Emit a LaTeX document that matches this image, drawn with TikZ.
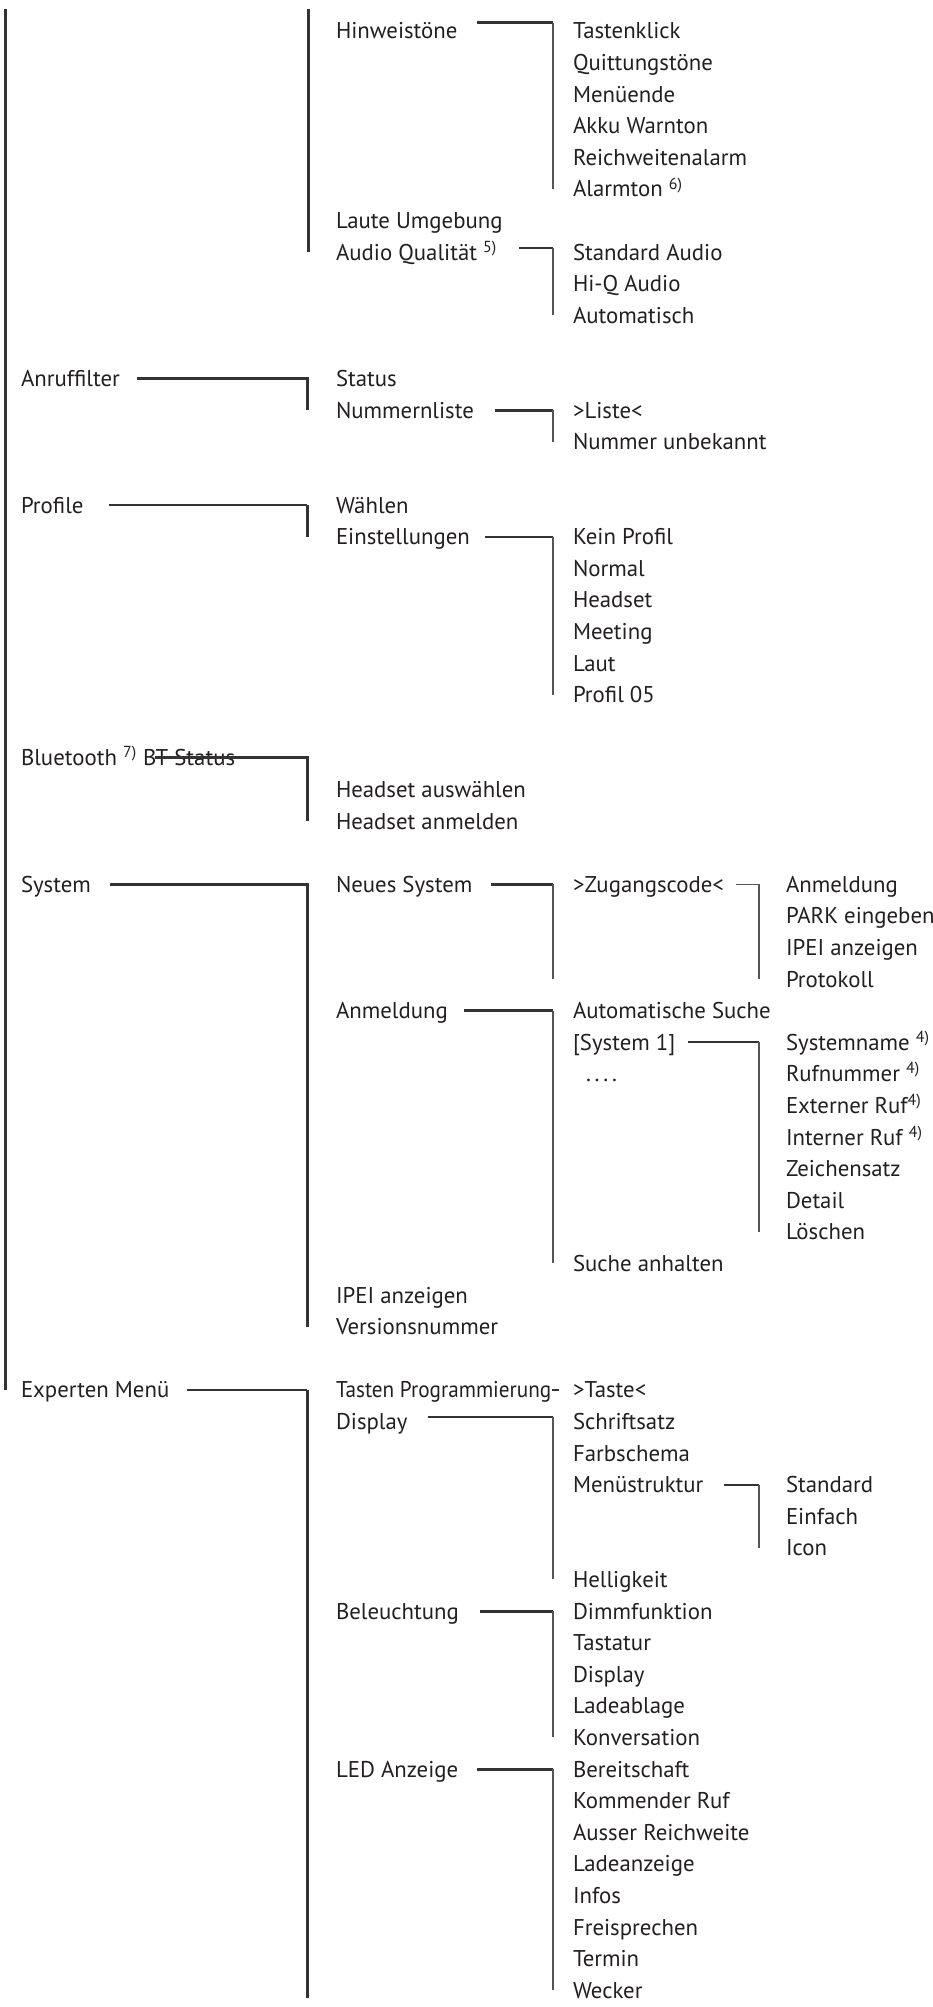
\documentclass[tikz,border=0pt]{standalone}
\usepackage{fontspec}
\setmainfont{PT Sans}
\newfontfamily\narrowfont{PT Sans}[FakeStretch=0.93]
\definecolor{ink}{HTML}{231F20}
\definecolor{wire}{HTML}{333333}
\definecolor{thinwire}{HTML}{555555}

\begin{document}
\begin{tikzpicture}[x=0.5pt,y=-15.8pt,
    menu node/.style={anchor=base west,inner sep=0pt,outer sep=0pt,text height=10pt,text depth=2pt,text=ink,font=\fontsize{11.4}{13}\selectfont},
    heavy line/.style={draw=wire,line width=1.5pt},
    medium line/.style={draw=wire,line width=1pt},
    light line/.style={draw=thinwire,line width=0.65pt}]
    \useasboundingbox (0,-1.234) rectangle (932,62.278);

    % Hinweistoene / Audio
    \node[menu node] (hinweis) at (336,0) {Hinweistöne};
    \node[menu node] (tastklick) at (573,0) {Tastenklick};
    \node[menu node] (quitt) at (573,1) {Quittungstöne};
    \node[menu node] (menuende) at (573,2) {Menüende};
    \node[menu node] (akku) at (573,3) {Akku Warnton};
    \node[menu node] (reichw) at (573,4) {Reichweitenalarm};
    \node[menu node] (alarm) at (573,5) {Alarmton \textsuperscript{6)}};
    \node[menu node] (lautumg) at (336,6) {Laute Umgebung};
    \node[menu node] (audio) at (336,7) {Audio Qualität \textsuperscript{5)}};
    \node[menu node] (stdaudio) at (573,7) {Standard Audio};
    \node[menu node] (hiq) at (573,8) {Hi-Q Audio};
    \node[menu node] (automat) at (573,9) {Automatisch};

    % Anruffilter
    \node[menu node] (anruf) at (21,11) {Anruffilter};
    \node[menu node] (status) at (336,11) {Status};
    \node[menu node] (numliste) at (336,12) {Nummernliste};
    \node[menu node] (liste) at (573,12) {>Liste<};
    \node[menu node] (unbek) at (573,13) {Nummer unbekannt};

    % Profile
    \node[menu node] (profile) at (21,15) {Profile};
    \node[menu node] (waehlen) at (336,15) {Wählen};
    \node[menu node] (einst) at (336,16) {Einstellungen};
    \node[menu node] (kein) at (573,16) {Kein Profil};
    \node[menu node] (normal) at (573,17) {Normal};
    \node[menu node] (headset) at (573,18) {Headset};
    \node[menu node] (meeting) at (573,19) {Meeting};
    \node[menu node] (lautp) at (573,20) {Laut};
    \node[menu node] (prof05) at (573,21) {Profil 05};

    % Bluetooth
    \node[menu node] (bt) at (21,23) {Bluetooth \textsuperscript{7)}};
    \node[menu node] (btstat) at (143,23) {BT Status};
    \node[menu node] (hsausw) at (336,24) {Headset auswählen};
    \node[menu node] (hsanm) at (336,25) {Headset anmelden};

    % System
    \node[menu node] (system) at (21,27) {System};
    \node[menu node] (neues) at (336,27) {Neues System};
    \node[menu node] (zugang) at (573,27) {>Zugangscode<};
    \node[menu node] (anmfour) at (786,27) {Anmeldung};
    \node[menu node] (park) at (786,28) {PARK eingeben};
    \node[menu node] (ipeifour) at (786,29) {IPEI anzeigen};
    \node[menu node] (protokoll) at (786,30) {Protokoll};
    \node[menu node] (anmtwo) at (336,31) {Anmeldung};
    \node[menu node] (autosuche) at (573,31) {Automatische Suche};
    \node[menu node] (sysone) at (573,32) {[System 1]};
    \node[menu node] (dots) at (586,33) {.\,.\,.\,.};
    \node[menu node] (sysname) at (786,32) {Systemname \textsuperscript{4)}};
    \node[menu node] (rufnr) at (786,33) {Rufnummer \textsuperscript{4)}};
    \node[menu node] (extern) at (786,34) {Externer Ruf\textsuperscript{4)}};
    \node[menu node] (intern) at (786,35) {Interner Ruf \textsuperscript{4)}};
    \node[menu node] (zeichen) at (786,36) {Zeichensatz};
    \node[menu node] (detail) at (786,37) {Detail};
    \node[menu node] (loeschen) at (786,38) {Löschen};
    \node[menu node] (suchean) at (573,39) {Suche anhalten};
    \node[menu node] (ipeitwo) at (336,40) {IPEI anzeigen};
    \node[menu node] (version) at (336,41) {Versionsnummer};

    % Experten Menue
    \node[menu node] (experten) at (21,43) {Experten Menü};
    \node[menu node,font=\fontsize{11.4}{13}\narrowfont] (tastprog) at (336,43) {Tasten Programmierung};
    \node[menu node] (taste) at (573,43) {>Taste<};
    \node[menu node] (display) at (336,44) {Display};
    \node[menu node] (schrift) at (573,44) {Schriftsatz};
    \node[menu node] (farb) at (573,45) {Farbschema};
    \node[menu node] (menustr) at (573,46) {Menüstruktur};
    \node[menu node] (standard) at (786,46) {Standard};
    \node[menu node] (einfach) at (786,47) {Einfach};
    \node[menu node] (icon) at (786,48) {Icon};
    \node[menu node] (hell) at (573,49) {Helligkeit};
    \node[menu node] (beleucht) at (336,50) {Beleuchtung};
    \node[menu node] (dimm) at (573,50) {Dimmfunktion};
    \node[menu node] (tastatur) at (573,51) {Tastatur};
    \node[menu node] (displaytwo) at (573,52) {Display};
    \node[menu node] (ladeabl) at (573,53) {Ladeablage};
    \node[menu node] (konv) at (573,54) {Konversation};
    \node[menu node] (led) at (336,55) {LED Anzeige};
    \node[menu node] (bereit) at (573,55) {Bereitschaft};
    \node[menu node] (kommend) at (573,56) {Kommender Ruf};
    \node[menu node] (ausser) at (573,57) {Ausser Reichweite};
    \node[menu node] (ladeanz) at (573,58) {Ladeanzeige};
    \node[menu node] (infos) at (573,59) {Infos};
    \node[menu node] (freisp) at (573,60) {Freisprechen};
    \node[menu node] (termin) at (573,61) {Termin};
    \node[menu node] (wecker) at (573,62) {Wecker};

    \coordinate (leftend) at (5,-0.95);
    \coordinate (midend) at (308,-0.95);
    \coordinate (zugcorner) at ([xshift=-10pt]zugang.west);
    \coordinate (expcorner) at ([xshift=-14.5pt]tastprog.west);

    % trunks
    \draw[heavy line] (leftend) -- (leftend |- experten.west);
    \draw[heavy line] (midend) -- (midend |- audio.west);

    \draw[heavy line] ([xshift=10pt,yshift=4pt]hinweis.east) -- ([xshift=-10pt,yshift=4pt]tastklick.west);
    \draw[light line] ([xshift=-10pt,yshift=4pt]tastklick.west) -- ([xshift=-10pt]alarm.west);
    \draw[medium line] ([xshift=11pt,yshift=2pt]audio.east) -- ([xshift=-10pt,yshift=2pt]stdaudio.west);
    \draw[light line] ([xshift=-10pt,yshift=2pt]stdaudio.west) -- ([xshift=-10pt]automat.west);

    \draw[heavy line] ([xshift=8.5pt]anruf.east) -| ([xshift=-14.5pt]numliste.west);
    \draw[heavy line] ([xshift=10.5pt]numliste.east) -- ([xshift=-10pt]liste.west);
    \draw[light line] ([xshift=-10pt]liste.west) -- ([xshift=-10pt]unbek.west);

    \draw[medium line] ([xshift=13pt]profile.east) -- ([xshift=-14.5pt]waehlen.west);
    \draw[heavy line] ([xshift=-14.5pt]waehlen.west) -- ([xshift=-14.5pt]einst.west);
    \draw[medium line] ([xshift=7.5pt]einst.east) -- ([xshift=-10pt]kein.west);
    \draw[light line] ([xshift=-10pt]kein.west) -- ([xshift=-10pt]prof05.west);

    \draw[heavy line] ([xshift=6pt]btstat.west) -| ([xshift=-14.5pt]hsanm.west);

    \draw[heavy line] ([xshift=9.5pt]system.east) -| ([xshift=-14.5pt]version.west);
    \draw[heavy line] ([xshift=9.5pt]neues.east) -- (zugcorner);
    \draw[light line] (zugcorner) -- (zugcorner |- protokoll.west);
    \draw[light line] ([xshift=6pt]zugang.east) -| ([xshift=-13.5pt]protokoll.west);
    \draw[heavy line] ([xshift=8pt]anmtwo.east) -- ([xshift=-10pt]autosuche.west);
    \draw[light line] ([xshift=-10pt]autosuche.west) -- ([xshift=-10pt]suchean.west);
    \draw[medium line] ([xshift=6.5pt]sysone.east) -- ([xshift=-13.5pt]sysname.west);
    \draw[light line] ([xshift=-13.5pt]sysname.west) -- ([xshift=-13.5pt]loeschen.west);

    \draw[medium line] ([xshift=9pt]experten.east) -- (expcorner);
    \draw[heavy line] (expcorner) -- (expcorner |- wecker.base);
    \draw[medium line] ([xshift=0.5pt]tastprog.east) -- ([xshift=-7pt]taste.west);
    \draw[medium line] ([xshift=10pt,yshift=2pt]display.east) -- ([xshift=-10pt,yshift=2pt]schrift.west);
    \draw[light line] ([xshift=-10pt,yshift=2pt]schrift.west) -- ([xshift=-10pt]hell.west);
    \draw[medium line] ([xshift=10.5pt]menustr.east) -- ([xshift=-13.5pt]standard.west);
    \draw[light line] ([xshift=-13.5pt]standard.west) -- ([xshift=-13.5pt]icon.west);
    \draw[heavy line] ([xshift=10.5pt]beleucht.east) -- ([xshift=-10pt]dimm.west);
    \draw[light line] ([xshift=-10pt]dimm.west) -- ([xshift=-10pt]konv.west);
    \draw[heavy line] ([xshift=9.5pt]led.east) -- ([xshift=-10pt]bereit.west);
    \draw[light line] ([xshift=-10pt]bereit.west) -- ([xshift=-10pt]wecker.west);
\end{tikzpicture}
\end{document}
